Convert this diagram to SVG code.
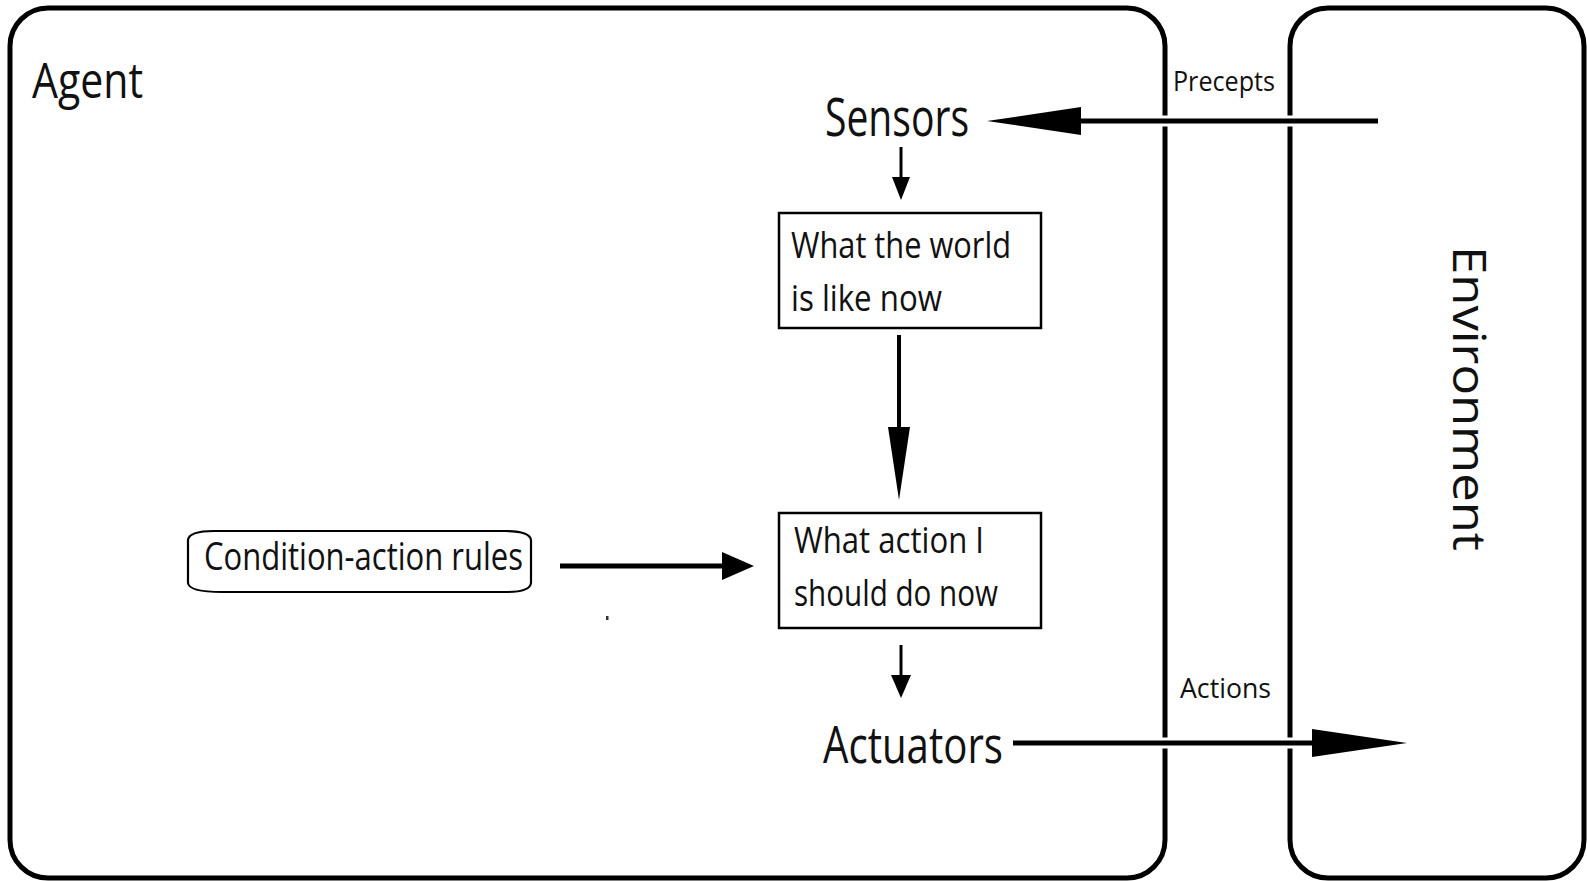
<svg xmlns="http://www.w3.org/2000/svg" width="1587" height="881" viewBox="0 0 1587 881">
<style>
  .frame { fill: none; stroke: #000; stroke-width: 5; }
  .box { fill: #fff; stroke: #000; stroke-width: 2.5; }
  .txt { font-family: "Open Sans", "Liberation Sans", sans-serif; fill: #111; }
  .line { stroke: #000; fill: none; }
  .halo { stroke: #fff; stroke-width: 11; fill: none; }
  .head { fill: #000; }
</style>
<rect width="1587" height="881" fill="#fff"/>
<g id="agent">
  <rect class="frame" x="10" y="8" width="1155" height="870" rx="38" ry="38"/>
  <text class="txt" x="32" y="98" font-size="49" textLength="111" lengthAdjust="spacingAndGlyphs">Agent</text>
</g>
<g id="environment">
  <rect class="frame" x="1290" y="8" width="294" height="870" rx="38" ry="38"/>
  <text class="txt" transform="translate(1453,246) rotate(90)" x="0" y="0" font-size="45" textLength="305" lengthAdjust="spacingAndGlyphs">Environment</text>
</g>
<g id="sensors">
  <text class="txt" x="825" y="136" font-size="53" textLength="144" lengthAdjust="spacingAndGlyphs">Sensors</text>
</g>
<g id="world-state">
  <rect class="box" x="779" y="213" width="262" height="115"/>
  <text class="txt" x="791" y="258" font-size="37" textLength="220" lengthAdjust="spacingAndGlyphs">What the world</text>
  <text class="txt" x="791" y="311" font-size="37" textLength="151" lengthAdjust="spacingAndGlyphs">is like now</text>
</g>
<g id="action-choice">
  <rect class="box" x="779" y="513" width="262" height="115"/>
  <text class="txt" x="794" y="553" font-size="37" textLength="190" lengthAdjust="spacingAndGlyphs">What action I</text>
  <text class="txt" x="794" y="606" font-size="37" textLength="204" lengthAdjust="spacingAndGlyphs">should do now</text>
</g>
<g id="rules">
  <path fill="#fff" stroke="#000" stroke-width="2.2" d="M214,531 H505 Q530,531 531,540 V583 Q530,592 506,592 H222 Q189,592 188,583 V540 Q189,531 214,531 Z"/>
  <text class="txt" x="204" y="570" font-size="38" textLength="319" lengthAdjust="spacingAndGlyphs">Condition-action rules</text>
</g>
<g id="actuators">
  <text class="txt" x="823" y="763" font-size="52" textLength="180" lengthAdjust="spacingAndGlyphs">Actuators</text>
</g>
<g id="connectors">
  <!-- Precepts: environment to sensors -->
  <line class="halo" x1="1150" y1="121" x2="1305" y2="121"/>
  <line class="line" x1="1378" y1="121" x2="1075" y2="121" stroke-width="5"/>
  <polygon class="head" points="987,121 1081,107 1081,135"/>
  <text class="txt" x="1173" y="91" font-size="28" textLength="102" lengthAdjust="spacingAndGlyphs">Precepts</text>
  <!-- sensors to world state -->
  <line class="line" x1="901" y1="147" x2="901" y2="180" stroke-width="3"/>
  <polygon class="head" points="892,177 910,177 901,200"/>
  <!-- world state to action choice -->
  <line class="line" x1="899" y1="335" x2="899" y2="430" stroke-width="4"/>
  <polygon class="head" points="888,427 910,427 899,500"/>
  <!-- rules to action choice -->
  <line class="line" x1="560" y1="566" x2="726" y2="566" stroke-width="5"/>
  <polygon class="head" points="722,552 754,566 722,580"/>
  <!-- action choice to actuators -->
  <line class="line" x1="901" y1="645" x2="901" y2="678" stroke-width="3"/>
  <polygon class="head" points="891,675 911,675 901,698"/>
  <!-- Actions: actuators to environment -->
  <line class="halo" x1="1150" y1="743" x2="1305" y2="743"/>
  <line class="line" x1="1013" y1="743" x2="1316" y2="743" stroke-width="5"/>
  <polygon class="head" points="1312,729 1407,743 1312,757"/>
  <text class="txt" x="1180" y="698" font-size="28" textLength="91" lengthAdjust="spacingAndGlyphs">Actions</text>
</g>
<rect x="606" y="616" width="2.5" height="4" fill="#333"/>
</svg>
